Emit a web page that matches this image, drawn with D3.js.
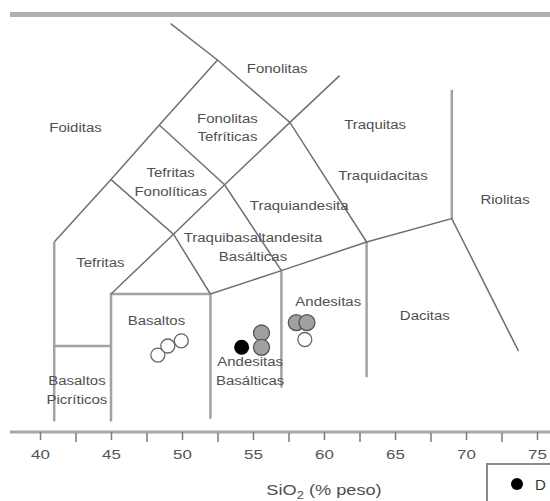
<!DOCTYPE html>
<html>
<head>
<meta charset="utf-8">
<title>Diagrama TAS</title>
<script src="https://cdn.jsdelivr.net/npm/d3@7/dist/d3.min.js"></script>
<style>
body { margin: 0; background: #fff; }
svg { display: block; font-family: "Liberation Sans", Arial, sans-serif; }
.campo { fill: none; stroke: #707070; stroke-width: 1.5; }
.recta { fill: none; stroke: #a2a2a2; stroke-width: 2.5; }
.rotulo { fill: #505050; font-size: 12px; }
.eje .tick line { stroke: #7a7a7a; stroke-width: 1.5; }
.eje .tick text { fill: #555; font-size: 13px; }
</style>
</head>
<body>
<div id="chart"></div>
<script>
// limites de campos, puntos (SiO2, Na2O+K2O)
var diagonales = [
  [[41, 7], [45, 9.4], [48.4, 11.5], [52.5, 14]],
  [[49.2, 15.4], [52.5, 14], [57.6, 11.6], [63, 7]],
  [[45, 5], [49.4, 7.3], [53, 9.2], [57.6, 11.6], [61.1, 13.4]],
  [[45, 9.4], [49.4, 7.3], [52, 5]],
  [[48.4, 11.5], [53, 9.2], [57, 5.9]],
  [[52, 5], [57, 5.9], [63, 7], [69, 7.9], [73.7, 2.8]]
];
var rectas = [
  [[41, 0.1], [41, 7]],
  [[45, 0.1], [45, 5], [52, 5]],
  [[52, 0.2], [52, 5]],
  [[57, 1.4], [57, 5.9]],
  [[63, 1.8], [63, 7]],
  [[69, 7.9], [69, 12.85]],
  [[41, 3], [45, 3]]
];

var rotulos = ["Foiditas", "Fonolitas", "Fonolitas\nTefríticas", "Traquitas",
  "Tefritas\nFonolíticas", "Traquidacitas", "Riolitas", "Traquiandesita",
  "Traquibasaltandesita\nBasálticas", "Tefritas", "Basaltos", "Andesitas",
  "Dacitas", "Andesitas\nBasálticas", "Basaltos\nPicríticos"];
var rotulosSiO2 = [42.5, 56.7, 53.2, 63.6, 49.2, 64.15, 72.75, 58.25,
  55.0, 44.25, 48.2, 60.3, 67.1, 54.8, 42.6];
var rotulosAlc = [11.4, 13.65, 11.75, 11.5, 9.65, 9.55, 8.6, 8.4,
  7.15, 6.2, 3.95, 4.7, 4.15, 2.4, 1.65];

// muestras
var abiertas = [[48.3, 2.65], [49.0, 3.0], [49.95, 3.2], [58.65, 3.25]];
var grises = [[55.6, 3.5], [55.6, 2.95], [58.05, 3.9], [58.8, 3.9]];
var negras = [[54.2, 2.95]];

var ticksMayores = [40, 45, 50, 55, 60, 65, 70, 75];
var ticksMenores = [42.5, 47.5, 52.5, 57.5, 62.5, 67.5, 72.5];
var leyenda = ["D"];

var W = 550, H = 501;
var svg = d3.select("#chart").append("svg")
  .attr("width", W).attr("height", H);

var x = d3.scaleLinear().domain([40, 75]).range([40, 537]);
var y = d3.scaleLinear().domain([0, 16]).range([424, 8]);
var linea = d3.line().x(d => x(d[0])).y(d => y(d[1]));

// barra superior
svg.append("rect").attr("x", 10).attr("y", 12).attr("width", W - 10).attr("height", 5)
  .attr("fill", "#b0b0b0");

svg.selectAll(".recta").data(rectas).enter().append("path")
  .attr("class", "recta").attr("d", linea);
svg.selectAll(".campo").data(diagonales).enter().append("path")
  .attr("class", "campo").attr("d", linea);

// rotulos
var g = svg.selectAll(".rotulo").data(rotulos).enter().append("g")
  .attr("transform", (d, i) => "translate(" + x(rotulosSiO2[i]) + "," + y(rotulosAlc[i]) + ")");
g.append("text")
  .attr("class", "rotulo")
  .attr("text-anchor", "middle")
  .attr("transform", "scale(1.25,1)")
  .each(function (d) {
    var t = d3.select(this);
    d.split("\n").forEach((s, k) => {
      t.append("tspan").attr("x", 0).attr("dy", k ? 19 : 4).text(s);
    });
  });

// muestras
svg.selectAll(".abierta").data(abiertas).enter().append("circle")
  .attr("cx", d => x(d[0])).attr("cy", d => y(d[1])).attr("r", 7)
  .attr("fill", "#fff").attr("stroke", "#666").attr("stroke-width", 1.3);
svg.selectAll(".gris").data(grises).enter().append("circle")
  .attr("cx", d => x(d[0])).attr("cy", d => y(d[1])).attr("r", 8)
  .attr("fill", "#a0a0a0").attr("stroke", "#555").attr("stroke-width", 1.3);
svg.selectAll(".negra").data(negras).enter().append("circle")
  .attr("cx", d => x(d[0])).attr("cy", d => y(d[1])).attr("r", 7.5)
  .attr("fill", "#000");

// eje x
svg.append("line").attr("x1", 10).attr("x2", W).attr("y1", 432).attr("y2", 432)
  .attr("stroke", "#a8a8a8").attr("stroke-width", 3);
var eje = svg.append("g").attr("class", "eje").attr("transform", "translate(0,432)");
eje.call(d3.axisBottom(x).tickValues(ticksMayores).tickSize(8).tickPadding(10));
eje.select(".domain").remove();
eje.selectAll(".tick text").attr("transform", "scale(1.3,1)");
var ejeMenor = svg.append("g").attr("class", "eje").attr("transform", "translate(0,433)");
ejeMenor.call(d3.axisBottom(x).tickValues(ticksMenores).tickSize(9).tickFormat(""));
ejeMenor.select(".domain").remove();

var titulo = svg.append("g").attr("transform", "translate(" + x(60) + ",495)")
  .append("text").attr("text-anchor", "middle").attr("transform", "scale(1.3,1)")
  .attr("fill", "#505050").style("font-size", "14px");
titulo.append("tspan").text("SiO");
titulo.append("tspan").attr("dy", 4).style("font-size", "10px").text("2");
titulo.append("tspan").attr("dy", -4).text(" (% peso)");

// leyenda
svg.append("rect").attr("x", 487).attr("y", 464).attr("width", 80).attr("height", 60)
  .attr("fill", "#fff").attr("stroke", "#8a8a8a").attr("stroke-width", 2);
svg.append("circle").attr("cx", 517).attr("cy", 484).attr("r", 6).attr("fill", "#000");
svg.selectAll(".leyenda").data(leyenda).enter().append("text")
  .attr("x", 535).attr("y", 490).attr("fill", "#333")
  .style("font-size", "15px").text(d => d);
</script>
</body>
</html>
